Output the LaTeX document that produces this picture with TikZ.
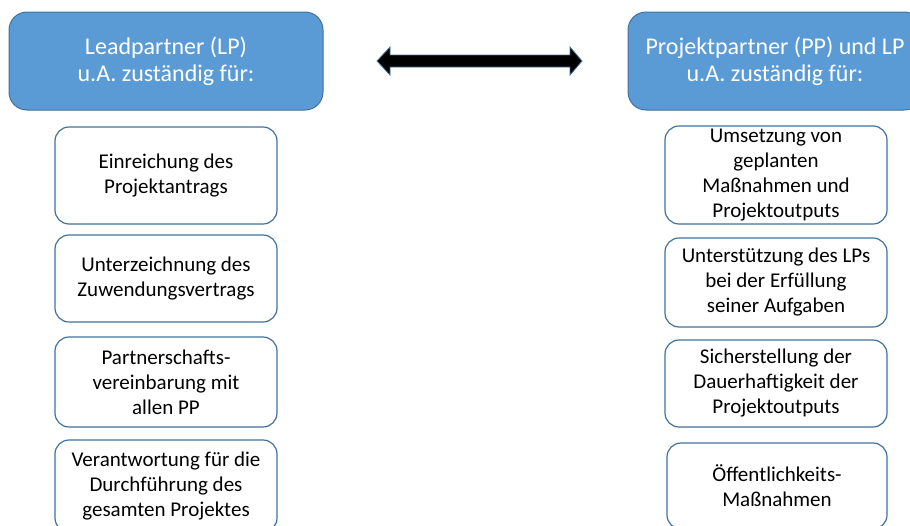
\documentclass[tikz,border=0pt]{standalone}
\usepackage{fontspec}
\setmainfont{Carlito}
\usetikzlibrary{calc}
\definecolor{hdrfill}{HTML}{5B9BD5}
\definecolor{hdrline}{HTML}{41719C}
\definecolor{boxline}{HTML}{41719C}
\tikzset{
  hdr/.style={draw=hdrline, fill=hdrfill, line width=1pt, rounded corners=18pt,
    text=white, align=center, inner sep=0pt,
    font=\fontsize{24}{27}\selectfont},
  item/.style={draw=boxline, fill=white, line width=1.2pt, rounded corners=14pt,
    text=black, align=center, inner sep=0pt,
    font=\fontsize{21}{25}\selectfont},
}
\begin{document}
\begin{tikzpicture}[x=1pt,y=-1pt]
\useasboundingbox (0,0) rectangle (910,525);
\clip (0,0) rectangle (910,525);
% headers
\node[hdr, minimum width=314pt, minimum height=98pt] (lp) at (166,61) {Leadpartner (LP)\\u.A. zuständig für:};
\node[hdr, minimum width=294pt, minimum height=98pt] (pp) at (775,61) {Projektpartner (PP) und LP\\u.A. zuständig für:};
% double arrow
\coordinate (al) at (377,61);
\coordinate (ar) at (582,61);
\draw[draw=hdrline, fill=black, line width=0.8pt]
  (al) -- ++(13,-14) -- ++(0,8) -- ($(ar)+(-12,-6)$) -- ++(0,-8) -- (ar)
  -- ++(-12,14) -- ++(0,-8) -- ($(al)+(13,6)$) -- ++(0,8) -- cycle;
% left column
\node[item, minimum width=222pt, minimum height=97pt] (l1) at (166,175.5) {Einreichung des\\Projektantrags};
\node[item, minimum width=222pt, minimum height=87pt] (l2) at (166,278.5) {Unterzeichnung des\\Zuwendungsvertrags};
\node[item, minimum width=222pt, minimum height=90pt] (l3) at (166,382) {Partnerschafts-\\vereinbarung mit\\allen PP};
\node[item, minimum width=222pt, minimum height=92pt] (l4) at (166,486) {Verantwortung für die\\Durchführung des\\gesamten Projektes};
% right column
\node[item, minimum width=222pt, minimum height=98pt] (r1) at (776,175) {Umsetzung von\\geplanten\\Maßnahmen und\\Projektoutputs};
\node[item, minimum width=222pt, minimum height=89pt] (r2) at (776,282.5) {Unterstützung des LPs\\bei der Erfüllung\\seiner Aufgaben};
\node[item, minimum width=222pt, minimum height=87pt] (r3) at (776,383.5) {Sicherstellung der\\Dauerhaftigkeit der\\Projektoutputs};
\node[item, minimum width=220pt, minimum height=86pt] (r4) at (777,486) {Öffentlichkeits-\\Maßnahmen};
\end{tikzpicture}
\end{document}
